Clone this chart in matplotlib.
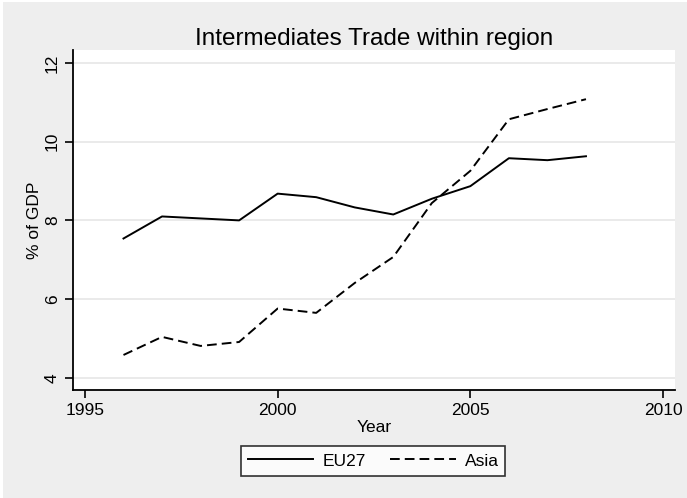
import matplotlib
matplotlib.use("Agg")
import matplotlib.pyplot as plt
from matplotlib.patches import Rectangle

plt.rcParams['font.family'] = ['Liberation Sans', 'DejaVu Sans']

years = [1996, 1997, 1998, 1999, 2000, 2001, 2002, 2003, 2004, 2005, 2006, 2007, 2008]
eu27 = [7.54, 8.10, 8.05, 8.00, 8.68, 8.59, 8.33, 8.15, 8.55, 8.87, 9.58, 9.53, 9.63]
asia = [4.58, 5.04, 4.81, 4.91, 5.76, 5.65, 6.41, 7.07, 8.44, 9.26, 10.57, 10.83, 11.08]

xticks = [1995, 2000, 2005, 2010]
yticks = [4, 6, 8, 10, 12]

fig = plt.figure(figsize=(6.87, 4.98), dpi=100, facecolor='white')
# light gray graph region (small white strip left/top like the source)
fig.patches.append(Rectangle((3 / 687, 0), 1, 1 - 2 / 498, transform=fig.transFigure,
                             facecolor='#eeeeee', edgecolor='none', zorder=-10))

ax = fig.add_axes([73 / 687, 108 / 498, 602 / 687, 340 / 498])
ax.set_facecolor('white')

ax.plot(years, eu27, color='black', lw=1.4, label='EU27')
ax.plot(years, asia, color='black', lw=1.4, ls=(0, (5, 2.6)), label='Asia')

ax.set_xlim(1994.69, 2010.31)
ax.set_ylim(3.69, 12.33)
ax.set_xticks(xticks)
ax.set_yticks(yticks)
ax.grid(axis='y', color='#e6e6e6', lw=1.2)
ax.set_axisbelow(True)

for s in ['top', 'right']:
    ax.spines[s].set_visible(False)
for s in ['left', 'bottom']:
    ax.spines[s].set_linewidth(1.3)
    ax.spines[s].set_color('black')

ax.tick_params(axis='both', length=6, width=1.2, labelsize=12.5, color='black')
ax.tick_params(axis='y', labelrotation=90)
for lab in ax.get_yticklabels():
    lab.set_verticalalignment('center')

ax.set_xlabel('Year', fontsize=12.5, labelpad=1)
ax.set_ylabel('% of GDP', fontsize=12.5, labelpad=2)
ax.set_title('Intermediates Trade within region', fontsize=17.5, pad=2)

leg = fig.legend(loc='center', bbox_to_anchor=(373 / 687, 1 - 461 / 498), ncol=2,
                 fontsize=12.5, frameon=True, fancybox=False, edgecolor='black',
                 handlelength=3.8, columnspacing=1.4, borderpad=0.4,
                 handletextpad=0.5)
leg.get_frame().set_linewidth(1.2)

fig.savefig('out.png', dpi=100, facecolor=fig.get_facecolor())
